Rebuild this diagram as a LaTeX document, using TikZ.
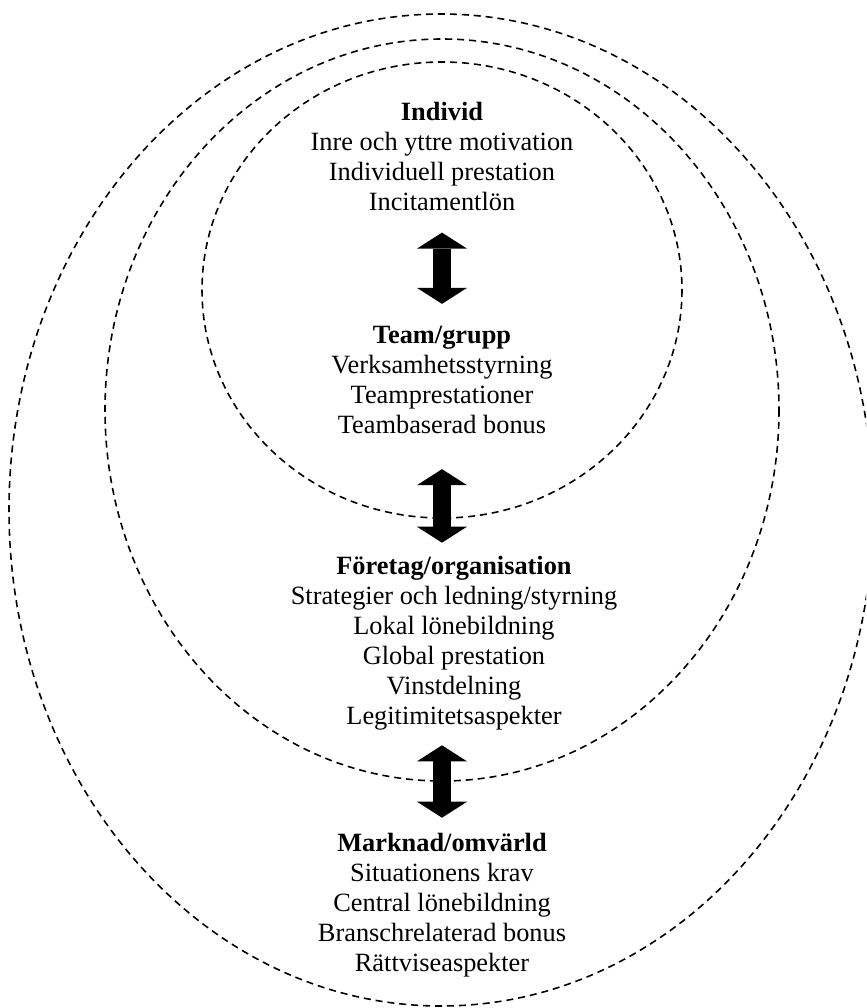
\documentclass[tikz,border=0pt]{standalone}
\usepackage{fontspec}
\setmainfont{Liberation Serif}
\usetikzlibrary{arrows.meta}

\begin{document}
\begin{tikzpicture}[x=0.02cm, y=-0.02cm,
	ring/.style = {dash pattern=on 4pt off 2.8pt, line width=0.9pt},
	block/.style = {align=center, inner sep=0pt, font=\fontsize{15}{17.07}\selectfont},
	biglink/.style = {line width=0.36cm,
		{Triangle[length=0.32cm, width=1cm, line width=0pt]}-{Triangle[length=0.32cm, width=1cm, line width=0pt]}}]
	\def\cx{442};

	\useasboundingbox (0,0) rectangle (866,1008);
	\clip (0,0) rectangle (866,1008);

	\draw [ring] (441,510) ellipse [x radius=432, y radius=496];
	\draw [ring] (\cx,410) ellipse [x radius=337, y radius=371];
	\draw [ring] (\cx,290) ellipse [x radius=240, y radius=228];

	\node [block] (indiv) at (\cx,156) {\textbf{Individ}\\Inre och yttre motivation\\Individuell prestation\\Incitamentlön};
	\node [block] (team) at (\cx,380) {\textbf{Team/grupp}\\Verksamhetsstyrning\\Teamprestationer\\Teambaserad bonus};
	\node [block] (firm) at (454,643) {\textbf{Företag/organisation}\\Strategier och ledning/styrning\\Lokal lönebildning\\Global prestation\\Vinstdelning\\Legitimitetsaspekter};
	\node [block] (market) at (\cx,905) {\textbf{Marknad/omvärld}\\Situationens krav\\Central lönebildning\\Branschrelaterad bonus\\Rättviseaspekter};

	\draw [biglink, shorten <=0.44cm, shorten >=0.44cm] (indiv) -- (team);
	\draw [biglink, shorten <=0.7cm, shorten >=0.26cm] (team) -- (firm.north -| team.south);
	\draw [biglink, shorten <=0.3cm, shorten >=0.3cm] (firm.south -| market.north) -- (market);
\end{tikzpicture}
\end{document}
